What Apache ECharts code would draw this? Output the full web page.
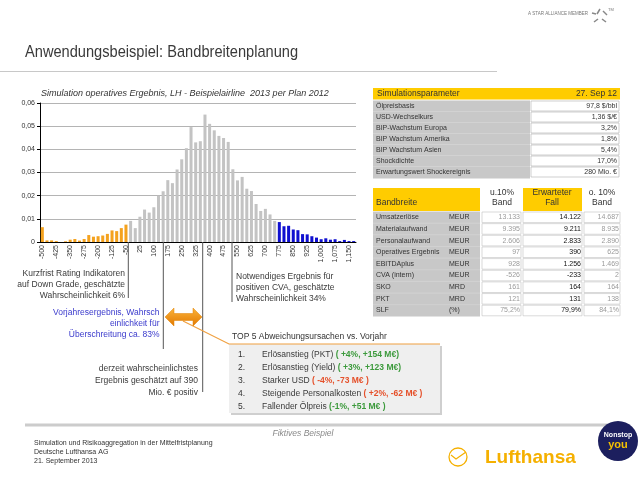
<!DOCTYPE html>
<html><head><meta charset="utf-8">
<script src="https://cdn.jsdelivr.net/npm/echarts/dist/echarts.min.js"></script>
<style>html,body{margin:0;padding:0;background:#fff}#c{width:638px;height:479px}</style>
</head><body><div id="c"></div>
<script>
// ---------- data ----------
const bins = [-500,-475,-450,-425,-400,-375,-350,-325,-300,-275,-250,-225,-200,-175,-150,-125,-100,-75,-50,
  -25,0,25,50,75,100,125,150,175,200,225,250,275,300,325,350,375,400,425,450,475,500,525,550,575,600,625,650,675,700,725,750,
  775,800,825,850,875,900,925,950,975,1000,1025,1050,1075,1100,1125,1150,1175];
const probs = [0.0064,0.0007,0.0007,0.0004,0.0000,0.0003,0.0010,0.0013,0.0006,0.0013,0.0030,0.0023,0.0025,0.0028,0.0035,0.0050,0.0047,0.0060,0.0075,
  0.0091,0.0060,0.0109,0.0140,0.0127,0.0150,0.0200,0.0219,0.0267,0.0254,0.0313,0.0357,0.0405,0.0496,0.0430,0.0435,0.0550,0.0510,0.0482,0.0458,0.0449,0.0432,0.0314,0.0266,0.0281,0.0230,0.0220,0.0164,0.0134,0.0143,0.0119,0.0091,
  0.0086,0.0068,0.0070,0.0054,0.0051,0.0034,0.0033,0.0025,0.0019,0.0012,0.0016,0.0010,0.0012,0.0004,0.0009,0.0004,0.0004];
const lowLimit = -50, highLimit = 775;
const yTicks = [0, 0.01, 0.02, 0.03, 0.04, 0.05, 0.06];

const simParams = ['Ölpreisbasis','USD-Wechselkurs','BIP-Wachstum Europa','BIP Wachstum Amerika','BIP Wachstum Asien','Shockdichte','Erwartungswert Shockereignis'];
const simValues = ['97,8 $/bbl','1,36 $/€','3,2%','1,8%','5,4%','17,0%','280 Mio. €'];

const bandRows  = ['Umsatzerlöse','Materialaufwand','Personalaufwand','Operatives Ergebnis','EBITDAplus','CVA (intern)','SKO','PKT','SLF'];
const bandUnits = ['MEUR','MEUR','MEUR','MEUR','MEUR','MEUR','MRD','MRD','(%)'];
const bandLow   = ['13.133','9.395','2.606','97','928','-526','161','121','75,2%'];
const bandExp   = ['14.122','9.211','2.833','390','1.256','-233','164','131','79,9%'];
const bandHigh  = ['14.687','8.935','2.890','625','1.469','2','164','138','84,1%'];

const top5Text  = ['Erlösanstieg (PKT)','Erlösanstieg (Yield)','Starker USD','Steigende Personalkosten','Fallender Ölpreis'];
const top5Delta = ['( +4%, +154 M€)','( +3%, +123 M€)','( -4%, -73 M€ )','( +2%, -62 M€ )','(-1%, +51 M€ )'];
const top5Good  = [true,true,false,false,true];

// ---------- helpers ----------
const F = 'Liberation Sans, Arial, sans-serif';
const G = [];
function txt(x,y,t,o){o=o||{};
  G.push({type:'text',x:x,y:y,scaleX:o.sx||1,z:o.z||10,style:{text:t,fill:o.fill||'#333',
    font:(o.style||'')+' '+(o.weight||'')+' '+(o.size||8)+'px '+F,
    textAlign:o.align||'left',align:o.align||'left',textVerticalAlign:'middle',verticalAlign:'middle',rich:o.rich}});}
function rect(x,y,w,h,fill,stroke,z){G.push({type:'rect',z:z||5,shape:{x:x,y:y,width:w,height:h},style:{fill:fill,stroke:stroke||null,lineWidth:stroke?0.6:0}});}
function line(x1,y1,x2,y2,c,w,z){G.push({type:'line',z:z||6,shape:{x1:x1,y1:y1,x2:x2,y2:y2},style:{stroke:c,lineWidth:w||1}});}

// header / title
txt(25,52,'Anwendungsbeispiel: Bandbreitenplanung',{size:17,fill:'#3a3a3a',sx:0.86});
line(0,71.5,497,71.5,'#c8c8c8',1);
txt(588,14,'A STAR ALLIANCE MEMBER',{size:4.5,fill:'#777',align:'right'});
// small star-like logo
[[600,9,597,14],[603,11,607,15],[602,19,606,22],[598,19,594,22],[596,14,592,13]].forEach(function(p){line(p[0],p[1],p[2],p[3],'#888',1.5);});
txt(608,10,'TM',{size:4,fill:'#777'});

// chart title
txt(41,93,'Simulation operatives Ergebnis, LH - Beispielairline  2013 per Plan 2012',{size:9,style:'italic',fill:'#333'});

// ---- table 1 ----
rect(373,88,247,11.5,'#ffcc00');
txt(377,94,'Simulationsparameter',{size:8.5,fill:'#333'});
txt(617,94,'27. Sep 12',{size:8.5,fill:'#333',align:'right'});
rect(373,100.5,157,78,'#c8c8c8');
simParams.forEach(function(p,i){const y=101+i*11;
  rect(531,y,88,10,'#fff','#b0b0b0');
  txt(376,y+5,p,{size:7,fill:'#333'});
  txt(617,y+5,simValues[i],{size:7,fill:'#333',align:'right'});
  if(i>0) line(373,y-0.5,530,y-0.5,'#d8d8d8',0.6);
});

// ---- table 2 ----
rect(373,188,107,23,'#ffcc00');
txt(376,203,'Bandbreite',{size:8.5,fill:'#333'});
txt(502,193,'u.10%',{size:8.5,fill:'#333',align:'center'});
txt(502,203,'Band',{size:8.5,fill:'#333',align:'center'});
rect(523,188,59,23,'#ffcc00');
txt(552,193,'Erwarteter',{size:8.5,fill:'#333',align:'center'});
txt(552,203,'Fall',{size:8.5,fill:'#333',align:'center'});
txt(602,193,'o. 10%',{size:8.5,fill:'#333',align:'center'});
txt(602,203,'Band',{size:8.5,fill:'#333',align:'center'});
rect(373,211.5,107,105,'#c8c8c8');
bandRows.forEach(function(r,i){const y=212+i*11.65;
  rect(482,y,39,10.6,'#fff','#c0c0c0');
  rect(523,y,59,10.6,'#fff','#c0c0c0');
  rect(584,y,36,10.6,'#fff','#c0c0c0');
  if(i>0) line(373,y-0.5,480,y-0.5,'#d8d8d8',0.6);
  txt(376,y+5.3,r,{size:7,fill:'#333'});
  txt(449,y+5.3,bandUnits[i],{size:7,fill:'#333'});
  txt(520,y+5.3,bandLow[i],{size:7,fill:'#9a9a9a',align:'right'});
  txt(581,y+5.3,bandExp[i],{size:7,fill:'#111',align:'right'});
  txt(619,y+5.3,bandHigh[i],{size:7,fill:'#9a9a9a',align:'right'});
});

// ---- annotation lines below the axis ----
line(128.3,242,128.3,298,'#555',1);
line(163.3,242,163.3,349,'#555',1);
line(202.7,242,202.7,392,'#555',1);
line(232,242,232,302,'#555',1);

// annotations
['Kurzfrist Rating Indikatoren','auf Down Grade, geschätzte','Wahrscheinlichkeit 6%'].forEach(function(t,i){txt(125,273.5+i*11,t,{size:8.5,fill:'#3a3a3a',align:'right'});});
['Notwendiges Ergebnis für','positiven CVA, geschätzte','Wahrscheinlichkeit 34%'].forEach(function(t,i){txt(236,277+i*11,t,{size:8.5,fill:'#3a3a3a'});});
['Vorjahresergebnis, Wahrsch','einlichkeit für','Überschreitung ca. 83%'].forEach(function(t,i){txt(159.5,313+i*11,t,{size:8.5,fill:'#3a3acc',align:'right'});});
['derzeit wahrscheinlichstes','Ergebnis geschätzt auf 390','Mio. € positiv'].forEach(function(t,i){txt(198,368.5+i*12,t,{size:8.5,fill:'#3a3a3a',align:'right'});});

// orange double arrow
G.push({type:'polygon',z:12,shape:{points:[[165,317],[174,308],[174,313.5],[193,313.5],[193,308],[202,317],[193,326],[193,320.5],[174,320.5],[174,326]]},
  style:{fill:{type:'linear',x:0,y:0,x2:0,y2:1,colorStops:[{offset:0,color:'#fbb43a'},{offset:1,color:'#e27800'}]},stroke:'#e08000',lineWidth:0.5}});
// connector
G.push({type:'polyline',z:11,shape:{points:[[183,321],[229,344],[440,344]]},style:{stroke:'#f0a040',lineWidth:1.2,fill:null}});

// TOP5 box
txt(232,337,'TOP 5 Abweichungsursachen vs. Vorjahr',{size:8.5,fill:'#333'});
rect(231,346,211,69,'#cfcfcf',null,4);
rect(229,344,211,69,'#efefef',null,5);
top5Text.forEach(function(t,i){const y=354.5+i*13;
  txt(238,y,(i+1)+'.',{size:8.5,fill:'#333'});
  txt(262,y,'{a|'+t+' }{'+(top5Good[i]?'g':'r')+'|'+top5Delta[i]+'}',{size:8.5,fill:'#333',
    rich:{a:{fill:'#3a3a3a',font:'8.5px '+F},g:{fill:'#3c9a3c',font:'bold 8.5px '+F},r:{fill:'#e5502a',font:'bold 8.5px '+F}}});
});

// footer
line(25,425,612,425,'#cccccc',3);
txt(303,434,'Fiktives Beispiel',{size:8.5,style:'italic',fill:'#8a8a8a',align:'center'});
txt(34,443,'Simulation und Risikoaggregation in der Mittelfristplanung',{size:7,fill:'#333'});
txt(34,452,'Deutsche Lufthansa AG',{size:7,fill:'#333'});
txt(34,461,'21. September 2013',{size:7,fill:'#333'});
G.push({type:'circle',z:10,shape:{cx:458,cy:457,r:9},style:{fill:'#fff',stroke:'#f5b000',lineWidth:1.3}});
G.push({type:'polyline',z:11,shape:{points:[[451,455],[456,459],[466,452]]},style:{stroke:'#f5b000',lineWidth:1.2,fill:null}});
txt(485,458,'Lufthansa',{size:19,weight:'bold',fill:'#f5b000'});
G.push({type:'circle',z:10,shape:{cx:618,cy:441,r:20},style:{fill:'#1c1f5e'}});
txt(618,435,'Nonstop',{size:7,weight:'bold',fill:'#fff',align:'center'});
txt(618,445,'you',{size:11,weight:'bold',fill:'#f5c000',align:'center'});

// ---------- chart ----------
const chart = echarts.init(document.getElementById('c'),null,{renderer:'canvas'});
chart.setOption({
  animation:false,
  grid:{left:40,top:103,width:316,height:139},
  xAxis:{type:'category',data:bins.map(String),
    axisLine:{lineStyle:{color:'#000',width:1}},
    axisTick:{interval:2,length:3,lineStyle:{color:'#000'},alignWithLabel:true},
    axisLabel:{interval:2,rotate:90,fontSize:7,color:'#333',fontFamily:F,margin:3,
      formatter:function(v){return Number(v).toLocaleString('en-US');}}},
  yAxis:{type:'value',min:yTicks[0],max:yTicks[yTicks.length-1],interval:0.01,
    axisLine:{show:true,lineStyle:{color:'#000',width:1}},
    axisTick:{show:true,length:3,lineStyle:{color:'#000'}},
    splitLine:{lineStyle:{color:'#b4b4b4',width:1}},
    axisLabel:{fontSize:7,color:'#333',fontFamily:F,margin:5,
      formatter:function(v){return v===0?'0':v.toFixed(2).replace('.',',');}}},
  series:[{type:'bar',data:probs,barCategoryGap:'35%',
    itemStyle:{color:function(p){const b=bins[p.dataIndex];return b<=lowLimit?'#f4a21e':(b>=highLimit?'#1010d0':'#c3c3c3');}}}],
  graphic:{elements:G}
});
</script></body></html>
